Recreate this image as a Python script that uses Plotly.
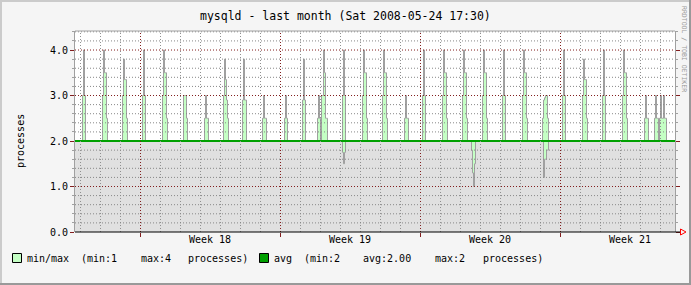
import pandas as pd
import plotly.graph_objects as go

TITLE = "mysqld - last month (Sat 2008-05-24 17:30)"
Y_LABEL = "processes"
WATERMARK = "RRDTOOL / TOBI OETIKER"

START_TIME = "2008-04-24 18:00"
STEP_MIN = 72            # consolidation step (minutes) of the monthly archive
N_STEPS = 600
BASELINE = 2.0

# samples that differ from the 2.0 baseline: start step index, values per step
max_event_start = [7, 27, 47, 67, 87, 108, 129, 148, 167, 187, 209, 227, 242, 267, 287,
                   307, 329, 347, 367, 387, 407, 427, 447, 467, 487, 507, 527, 547, 569, 579]
max_event_values = [
    [3, 4, 3],
    [3, 4, 3.5, 3.5, 2.5],
    [3, 3.8, 3.35, 3.35, 2.5],
    [3, 4, 3],
    [3, 4, 3.5, 3.5, 2.5],
    [3, 3, 3, 2.5],
    [2.5, 3, 2.5, 2.5],
    [3, 3.8, 3.35, 2.9, 2.5],
    [2.9, 3.8, 2.9, 2.9],
    [2.5, 3, 2.5, 2.5],
    [2.5, 3, 2.5],
    [2.9, 3.8, 2.9],
    [2.5, 3, 2.5, 2, 3, 3, 4, 3.5, 2.5, 2.5],
    [3, 4, 3],
    [3, 4, 3.5, 3.5, 2.5],
    [3, 4, 3.5, 3.5, 2.5],
    [2.5, 3, 2.5, 2.5],
    [3, 4, 3],
    [3, 4, 3.5, 3.5, 2.5],
    [3, 4, 3.5, 3.5, 2.5],
    [3, 4, 3.5, 3.5, 2.5],
    [3, 4, 3],
    [3, 4, 3.5, 3.5, 2.5],
    [2.5, 2.9, 2.95, 3, 3, 2.5],
    [3, 4, 3],
    [3, 3.8, 3.35, 3.35, 2.5],
    [3, 4, 3],
    [3, 4, 3.5, 3.5, 2.5],
    [2.5, 3, 2.5, 2.5],
    [2.5, 3, 2.5, 2.5, 2, 2.5, 3, 2.5, 2.5, 3, 2.5, 2.5],
]
min_event_start = [267, 396, 468]
min_event_values = [
    [1.75, 1.5, 1.75],
    [1.8, 1.3, 1.0, 1.5],
    [1.2, 1.6, 1.6, 1.8, 1.8],
]

week_starts = ["2008-04-28", "2008-05-05", "2008-05-12", "2008-05-19"]
week_labels = ["Week 18", "Week 19", "Week 20", "Week 21"]
y_ticks = [0, 1, 2, 3, 4]
y_tick_labels = ["0.0", "1.0", "2.0", "3.0", "4.0"]
Y_TOP = 4.418

# ---- build series ----
step = pd.Timedelta(minutes=STEP_MIN)
t0 = pd.Timestamp(START_TIME)
t_end = t0 + N_STEPS * step
times = pd.date_range(t0, periods=N_STEPS + 1, freq=f"{STEP_MIN}min")
max_vals = [BASELINE] * (N_STEPS + 1)
for s, vals in zip(max_event_start, max_event_values):
    for k, v in enumerate(vals):
        max_vals[s + k] = v
min_vals = [BASELINE] * (N_STEPS + 1)
for s, vals in zip(min_event_start, min_event_values):
    for k, v in enumerate(vals):
        min_vals[s + k] = v
avg_vals = [BASELINE] * (N_STEPS + 1)

# half-pixel shift so 1px outlines / grid lines land on whole pixel columns
half = step / 2
times_line = times + half

W, H = 691, 285
L, R, T, B = 75, 16, 31, 53
PW, PH = W - L - R, H - T - B


def px(xp):
    return (xp - L) / PW


def py(yp):
    return (H - B - yp) / PH


OUTLINE = "#A0A0A0"
fig = go.Figure()
fig.add_trace(go.Scatter(x=times, y=min_vals, mode="lines",
                         line=dict(color="rgba(0,0,0,0)", width=0, shape="hv"),
                         fill="tozeroy", fillcolor="#E0E0E0",
                         showlegend=False, hoverinfo="skip"))
fig.add_trace(go.Scatter(x=times, y=max_vals, mode="lines",
                         line=dict(color="rgba(0,0,0,0)", width=0, shape="hv"),
                         fill="tonexty", fillcolor="#C4FFC4",
                         showlegend=False, hoverinfo="skip"))
fig.add_trace(go.Scatter(x=times_line, y=min_vals, mode="lines",
                         line=dict(color=OUTLINE, width=1, shape="hv"),
                         showlegend=False, hoverinfo="skip"))
fig.add_trace(go.Scatter(x=times_line, y=max_vals, mode="lines",
                         line=dict(color=OUTLINE, width=1, shape="hv"),
                         showlegend=False, hoverinfo="skip"))
fig.add_trace(go.Scatter(x=times, y=avg_vals, mode="lines",
                         line=dict(color="#00A000", width=2),
                         showlegend=False, hoverinfo="skip"))

shapes = []
GRID_DASH = "1px,2px"
MINOR_COL = "#909090"
MAJOR_COL = "#821E1E"
week_ts = [pd.Timestamp(w) for w in week_starts]
day = t0.normalize() + pd.Timedelta(days=1)
while day < t_end:
    if day not in week_ts:
        shapes.append(dict(type="line", xref="x", yref="paper", x0=day + half, x1=day + half,
                           y0=0, y1=1, line=dict(color=MINOR_COL, width=1, dash=GRID_DASH),
                           layer="above"))
    day += pd.Timedelta(days=1)
for w in week_ts:
    shapes.append(dict(type="line", xref="x", yref="paper", x0=w + half, x1=w + half, y0=0, y1=1,
                       line=dict(color=MAJOR_COL, width=1, dash=GRID_DASH), layer="above"))
for i in range(1, int(Y_TOP / 0.2) + 1):
    yv = round(i * 0.2, 2)
    if abs(yv - round(yv)) < 1e-9:
        if round(yv) == BASELINE:
            continue
        col = MAJOR_COL
    else:
        col = "#888888"
    shapes.append(dict(type="line", xref="paper", yref="y", x0=0, x1=1, y0=yv, y1=yv,
                       line=dict(color=col, width=1, dash=GRID_DASH), layer="above"))
# frame: top gray, bottom black axis with arrow
shapes.append(dict(type="line", xref="paper", yref="paper", x0=0, x1=1, y0=1, y1=1,
                   line=dict(color="#A0A0A0", width=1), layer="above"))
shapes.append(dict(type="line", xref="paper", yref="paper", x0=0, x1=px(681), y0=0, y1=0,
                   line=dict(color="#000000", width=1), layer="above"))
shapes.append(dict(type="path", xref="paper", yref="paper",
                   path=f"M{px(680.5)},{py(229)} L{px(680.5)},{py(235)} L{px(686)},{py(232)} Z",
                   line=dict(color="#FF0000", width=1), fillcolor="rgba(0,0,0,0)", layer="above"))
# image border (3d shade)
shapes += [
    dict(type="rect", xref="paper", yref="paper", x0=px(0), x1=px(2), y0=py(285), y1=py(0),
         fillcolor="#CBCBCB", line=dict(width=0), layer="above"),
    dict(type="rect", xref="paper", yref="paper", x0=px(0), x1=px(691), y0=py(2), y1=py(0),
         fillcolor="#CBCBCB", line=dict(width=0), layer="above"),
    dict(type="rect", xref="paper", yref="paper", x0=px(689), x1=px(691), y0=py(285), y1=py(0),
         fillcolor="#999999", line=dict(width=0), layer="above"),
    dict(type="rect", xref="paper", yref="paper", x0=px(0), x1=px(691), y0=py(285), y1=py(283),
         fillcolor="#999999", line=dict(width=0), layer="above"),
]
# legend boxes
shapes += [
    dict(type="rect", xref="paper", yref="paper", x0=px(12.5), x1=px(21.5), y0=py(262.5), y1=py(253.5),
         fillcolor="#C4FFC4", line=dict(color="#000000", width=1), layer="above"),
    dict(type="rect", xref="paper", yref="paper", x0=px(259.5), x1=px(268.5), y0=py(262.5), y1=py(253.5),
         fillcolor="#00A000", line=dict(color="#000000", width=1), layer="above"),
]

mono = "DejaVu Sans Mono"
annotations = [
    dict(text=TITLE, x=px(345.5), y=py(16), xref="paper", yref="paper", showarrow=False,
         xanchor="center", yanchor="middle", font=dict(family=mono, size=11.5, color="#000")),
    dict(text=Y_LABEL, x=px(20), y=py(141), xref="paper", yref="paper", showarrow=False,
         textangle=-90, xanchor="center", yanchor="middle", font=dict(family=mono, size=10, color="#000")),
    dict(text=WATERMARK, x=px(684), y=py(49), xref="paper", yref="paper", showarrow=False,
         textangle=90, xanchor="center", yanchor="middle", font=dict(family=mono, size=6.5, color="#999999")),
]
leg_min = min(min_vals)
leg_max = max(max_vals)
avg_mean = sum(avg_vals) / len(avg_vals)
legend_items = [
    (26, "min/max"), (80, f"(min:{leg_min:g}"), (140, f"max:{leg_max:g}"), (187, "processes)"),
    (273, "avg"), (303, f"(min:{min(avg_vals):g}"), (362, f"avg:{avg_mean:.2f}"),
    (434, f"max:{max(avg_vals):g}"), (482, "processes)"),
]
for xp, txt in legend_items:
    annotations.append(dict(text=txt, x=px(xp - 1), y=py(258.5), xref="paper", yref="paper",
                            showarrow=False, xanchor="left", yanchor="middle",
                            font=dict(family=mono, size=10, color="#000")))

week_mid = [w + pd.Timedelta(hours=84) for w in week_ts]

fig.update_layout(
    width=W, height=H, margin=dict(l=L, r=R, t=T, b=B, pad=0),
    paper_bgcolor="#F5F5F5", plot_bgcolor="#FFFFFF", showlegend=False,
    font=dict(family=mono, size=10, color="#000"),
    shapes=shapes, annotations=annotations,
)
fig.update_xaxes(type="date", range=[t0, t_end], showgrid=False, zeroline=False, showline=False,
                 tickmode="array", tickvals=week_mid, ticktext=week_labels, ticks="",
                 tickfont=dict(family=mono, size=10, color="#000"),
                 minor=dict(tickmode="array", tickvals=week_ts, ticks="outside", ticklen=4,
                            tickcolor=MAJOR_COL, tickwidth=1, showgrid=False))
fig.update_yaxes(range=[0, Y_TOP], showgrid=False, zeroline=False, showline=True,
                 linecolor="#A0A0A0", linewidth=1, mirror="ticks",
                 tickmode="array", tickvals=y_ticks, ticktext=y_tick_labels,
                 ticks="outside", ticklen=4, tickcolor=MAJOR_COL, tickwidth=1,
                 tickfont=dict(family=mono, size=10, color="#000"),
                 minor=dict(tickmode="linear", tick0=0, dtick=0.2, ticks="outside", ticklen=2,
                            tickcolor="#A0A0A0", showgrid=False))

fig.write_html("out.html", config={"displayModeBar": False})
